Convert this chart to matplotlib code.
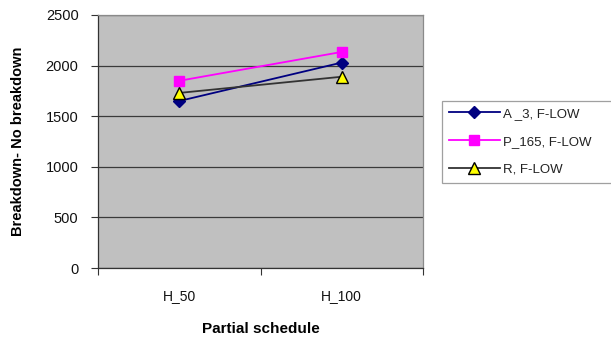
import matplotlib
matplotlib.use("Agg")
import matplotlib.pyplot as plt
from matplotlib.ticker import FixedLocator

plt.rcParams['font.family'] = ['Liberation Sans', 'DejaVu Sans']

categories = ["H_50", "H_100"]
series_names = ["A _3, F-LOW", "P_165, F-LOW", "R, F-LOW"]
a3_values = [1650, 2030]
p165_values = [1850, 2135]
r_values = [1730, 1890]
y_ticks = [0, 500, 1000, 1500, 2000, 2500]

fig = plt.figure(figsize=(6.11, 3.42), dpi=100)
ax = fig.add_axes([98 / 611, 74 / 342, 325 / 611, 253 / 342])
ax.set_facecolor("#C0C0C0")

x = list(range(len(categories)))
ax.plot(x, a3_values, color="#000080", lw=1.3, marker="D", markersize=6.5,
        markerfacecolor="#000080", markeredgecolor="#000080", label=series_names[0], zorder=3)
ax.plot(x, p165_values, color="#FF00FF", lw=1.3, marker="s", markersize=7.5,
        markerfacecolor="#FF00FF", markeredgecolor="#FF00FF", label=series_names[1], zorder=3)
ax.plot(x, r_values, color="#333333", lw=1.3, marker="^", markersize=8,
        markerfacecolor="#FFFF00", markeredgecolor="#000000", markeredgewidth=1.0,
        label=series_names[2], zorder=3)

ax.set_xlim(-0.5, len(categories) - 0.5)
ax.set_ylim(0, 2500)
ax.set_yticks(y_ticks)
ax.set_xticks(x)
ax.set_xticklabels(categories)
ax.xaxis.set_minor_locator(FixedLocator([-0.5, 0.5, 1.5]))
ax.tick_params(axis="x", which="major", length=0, pad=15, labelsize=10, labelcolor="#111111")
ax.tick_params(axis="x", which="minor", length=5, width=0.8, color="#333333", direction="out")
ax.tick_params(axis="y", length=5, width=0.8, color="#333333", pad=9, labelsize=10.5, labelcolor="#111111")

ax.yaxis.grid(True, color="#3a3a3a", lw=0.9)
ax.set_axisbelow(True)
for side in ["left", "bottom"]:
    ax.spines[side].set_color("#333333")
    ax.spines[side].set_linewidth(0.9)
for side in ["top", "right"]:
    ax.spines[side].set_color("#8a8a8a")
    ax.spines[side].set_linewidth(0.9)

ax.set_xlabel("Partial schedule", fontsize=11, fontweight="bold", labelpad=14)
ax.set_ylabel("Breakdown- No breakdown", fontsize=10.5, fontweight="bold", labelpad=15)

leg = fig.legend(loc="upper left",
                 bbox_to_anchor=(442 / 611, 1 - 183 / 342, (625 - 442) / 611, 82 / 342),
                 mode="expand", fontsize=9.5, frameon=True, fancybox=False, handlelength=3.9,
                 handletextpad=0.2, borderaxespad=0, borderpad=0.5, labelspacing=1.2)
leg.get_frame().set_edgecolor("#888888")
leg.get_frame().set_linewidth(0.9)
for t in leg.get_texts():
    t.set_color("#222222")

fig.savefig("out.png", dpi=100)
